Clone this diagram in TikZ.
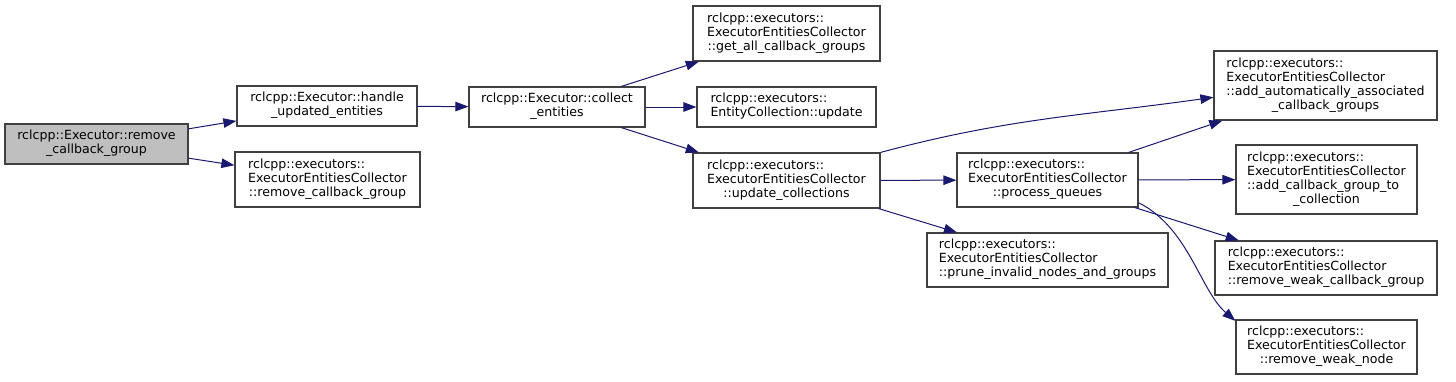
\documentclass[tikz,border=0pt]{standalone}
\usepackage{fontspec}
\setmainfont{DejaVu Sans}
\usepackage{tikz}
\usetikzlibrary{arrows.meta}
\definecolor{edgeblue}{RGB}{25,25,112}
\definecolor{boxgray}{RGB}{64,64,64}
\definecolor{curgray}{RGB}{191,191,191}
\newcommand{\fnlabel}[2]{\begin{tabular}{@{}l@{}}#1\\\multicolumn{1}{@{}c@{}}{#2}\end{tabular}}

\begin{document}
\begin{tikzpicture}[
				x=1pt, y=1pt,
				fn/.style={rectangle, draw=boxgray, fill=white, line width=1.2pt,
					inner sep=0pt, align=center, font=\fontsize{12.6}{14}\selectfont},
				fncur/.style={fn, fill=curgray},
				call/.style={-{Triangle[length=13pt, width=9.5pt]}, line width=1pt, color=edgeblue}
				]
				\useasboundingbox (0,0) rectangle (1456,-381);
				\node[fncur, minimum width=183pt, minimum height=40pt] (rem) at (96.5,-144) {\fnlabel{rclcpp::Executor::remove}{\_callback\_group}};
				\node[fn, minimum width=180pt, minimum height=40pt] (handle) at (327,-106) {\fnlabel{rclcpp::Executor::handle}{\_updated\_entities}};
				\node[fn, minimum width=185pt, minimum height=55pt] (ecrem) at (327.5,-179.5) {\fnlabel{rclcpp::executors::\\ExecutorEntitiesCollector}{::remove\_callback\_group}};
				\node[fn, minimum width=176pt, minimum height=40pt] (collect) at (557,-107) {\fnlabel{rclcpp::Executor::collect}{\_entities}};
				\node[fn, minimum width=187pt, minimum height=55pt] (getall) at (786.5,-33.5) {\fnlabel{rclcpp::executors::\\ExecutorEntitiesCollector}{::get\_all\_callback\_groups}};
				\node[fn, minimum width=179pt, minimum height=40pt] (ecupd) at (786.5,-107) {\fnlabel{rclcpp::executors::}{EntityCollection::update}};
				\node[fn, minimum width=187pt, minimum height=55pt] (updcol) at (786.5,-180.5) {\fnlabel{rclcpp::executors::\\ExecutorEntitiesCollector}{::update\_collections}};
				\node[fn, minimum width=223pt, minimum height=69pt] (addauto) at (1325.5,-85.5) {\fnlabel{rclcpp::executors::\\ExecutorEntitiesCollector\\::add\_automatically\_associated}{\_callback\_groups}};
				\node[fn, minimum width=181pt, minimum height=54pt] (procq) at (1047.5,-180) {\fnlabel{rclcpp::executors::\\ExecutorEntitiesCollector}{::process\_queues}};
				\node[fn, minimum width=181pt, minimum height=69pt] (addcb) at (1326.5,-179.5) {\fnlabel{rclcpp::executors::\\ExecutorEntitiesCollector\\::add\_callback\_group\_to}{\_collection}};
				\node[fn, minimum width=241pt, minimum height=54pt] (prune) at (1047.5,-260) {\fnlabel{rclcpp::executors::\\ExecutorEntitiesCollector}{::prune\_invalid\_nodes\_and\_groups}};
				\node[fn, minimum width=222pt, minimum height=54pt] (remweak) at (1326,-268) {\fnlabel{rclcpp::executors::\\ExecutorEntitiesCollector}{::remove\_weak\_callback\_group}};
				\node[fn, minimum width=181pt, minimum height=54pt] (remnode) at (1326.5,-347) {\fnlabel{rclcpp::executors::\\ExecutorEntitiesCollector}{::remove\_weak\_node}};

				\draw[call] (rem) -- (handle);
				\draw[call] (rem) -- (ecrem);
				\draw[call] (handle) -- (collect);
				\draw[call] (collect) -- (getall);
				\draw[call] (collect) -- (ecupd);
				\draw[call] (collect) -- (updcol);
				\draw[call] (updcol.north east) to[out=15, in=188] (addauto.186);
				\draw[call] (updcol) -- (procq);
				\draw[call] (updcol) -- (prune);
				\draw[call] (procq) -- (addauto);
				\draw[call] (procq) -- (addcb);
				\draw[call] (procq) -- (remweak);
				\draw[call] (procq.-14) .. controls +(50,-25) and +(-35,30) .. (remnode.164);
			\end{tikzpicture}
\end{document}
